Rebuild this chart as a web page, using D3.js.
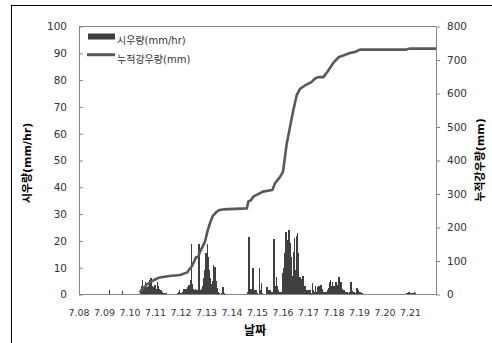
<!DOCTYPE html>
<html>
<head>
<meta charset="utf-8">
<script src="https://cdn.jsdelivr.net/npm/d3@7"></script>
<style>
  body { margin: 0; background: #fff; }
  svg { display: block; font-family: "DejaVu Sans", "Noto Sans CJK KR", sans-serif; }
</style>
</head>
<body>
<svg id="chart" width="492" height="343"></svg>
<script>
// date labels (one per day, 7.08 .. 7.21)
const days = ["7.08", "7.09", "7.10", "7.11", "7.12", "7.13", "7.14",
              "7.15", "7.16", "7.17", "7.18", "7.19", "7.20", "7.21"];

// hourly rainfall (mm/hr), 24 values per day
const rain0708 = [0,0,0,0,0,0,0,0,0,0,0,0,0,0,0,0,0,0,0,0,0,0,0,0];
const rain0709 = [0,0,0,0,1.5,0,0,0,0,0,0,0,0,0,0,0,1.2,0,0,0,0,0,0,0];
const rain0710 = [0,0,0,0,0,0,0,0,0,1,3,5.5,2,3,4.8,2.7,1.5,3,5.4,6,3,2.7,1.5,3.6];
const rain0711 = [2,4.8,3,2,1.5,1.7,1,0.7,0.5,0.5,0.3,0,0,0,0,0,0.3,0,0,0,0.5,1,1.5,0.5];
const rain0712 = [0.5,1,2,1,2,0.5,2.7,3.6,5.4,18.8,4,2,1.7,2,1.7,1.5,18.8,1.7,1.7,2,3,6,9,15.4];
const rain0713 = [19,14,9,6,4,5,11,10.4,5,2.5,1,0.5,0,0,0.5,2.9,0.5,0,0,0,0,0,0,0];
const rain0714 = [0,0,0,0,0,0,0,0,0,0,0,0,0,0,1,21.6,2,1.7,2,9.8,1.7,1.5,1.7,0.5];
const rain0715 = [0,10,1.5,4.2,0.5,0,0,0,2.7,1.7,1.5,1.7,1,0.5,1,20.6,3,6.7,3.2,1.5,1,1,1,8.2];
const rain0716 = [10,15.4,23.5,20.4,8,24.1,19.1,14.1,7,16,21,9,21.9,22.9,15.4,6.7,5.7,3,6.9,2,3.2,1,1.7,1.7];
const rain0717 = [1.7,1.5,0.5,4.2,1.7,1,3.2,1,2.7,3.2,1,3.6,2,1,1,1,1,1.5,2.3,4.8,5.4,3,4.8,3];
const rain0718 = [3,4.5,2,3.5,6.5,3,4.5,2,1.5,1.5,1,1,0.8,0.5,0.8,4.8,1.2,0.8,0.8,0.6,0.4,2.5,1.5,0.8];
const rain0719 = [0.8,0.6,0.4,0.3,0,0,0,0,0,0,0,0,0,0,0,0,0,0,0,0,0,0,0,0];
const rain0720 = [0,0,0,0,0,0,0,0,0,0,0,0,0,0,0,0,0,0,0,0,0.5,0.5,0.8,0.5];
const rain0721 = [0.5,0.5,0.5,1,0.5,0,0,0,0,0,0,0,0,0,0,0,0,0,0,0,0,0,0,0];

// cumulative rainfall (mm), read at hours counted from 7.08 00h
const cumHour = [57, 59, 64, 71, 76, 85, 95, 102, 104, 106, 109, 110,
                 112, 114, 118.6, 121, 123.3, 126, 129.6, 132, 135.8, 158, 159.3, 162, 164,
                 170, 173, 182, 184.5, 189.2, 192, 195.5, 198.6, 201.7, 204.9, 208, 212.7,
                 215.6, 218.8, 221.9, 225, 230, 233.7, 236.8, 240, 244.7, 249.4, 255, 259.7,
                 264.4, 308, 311.5, 336];
const cumRain = [6, 14, 30, 44, 51, 55, 58, 66, 76, 83, 103, 111,
                 111, 128, 158, 190, 213, 235, 247, 252, 254, 257, 277, 282, 292,
                 302, 307, 312, 332, 351, 366, 450, 500, 550, 595, 614, 624,
                 629, 634, 644, 649, 649, 664, 679, 694, 709, 714, 721, 724,
                 731, 731, 734, 734];

const hourly = [].concat(rain0708, rain0709, rain0710, rain0711, rain0712, rain0713, rain0714,
                         rain0715, rain0716, rain0717, rain0718, rain0719, rain0720, rain0721);

const svg = d3.select("#chart");
const plotLeft = 79, plotRight = 436, plotTop = 26.5, plotBottom = 294.5;
const axisColor = "#868686", textColor = "#333";

// outer frame
svg.append("rect")
    .attr("x", 11.5).attr("y", 5.5)
    .attr("width", 520).attr("height", 400)
    .attr("fill", "none").attr("stroke", "#000");

const x = d3.scaleLinear().domain([0, hourly.length]).range([plotLeft, plotRight]);
const yRain = d3.scaleLinear().domain([0, 100]).range([plotBottom, plotTop]);
const yCum = d3.scaleLinear().domain([0, 800]).range([plotBottom, plotTop]);

// bars (slightly widened so neighbouring hours merge like the original)
svg.append("g")
    .attr("shape-rendering", "crispEdges")
    .selectAll("rect")
    .data(hourly)
    .enter()
        .append("rect")
        .attr("x", (d, i) => x(i))
        .attr("y", d => yRain(d))
        .attr("width", (d, i) => x(i + 1) - x(i) + 0.5)
        .attr("height", d => plotBottom - yRain(d))
        .attr("fill", "#404040");

// cumulative line
const cum = cumHour.map((h, i) => [h, cumRain[i]]);
svg.append("path")
    .datum(cum)
    .attr("fill", "none")
    .attr("stroke", "#595959")
    .attr("stroke-width", 2.6)
    .attr("stroke-linejoin", "round")
    .attr("d", d3.line().x(d => x(d[0])).y(d => yCum(d[1])));

// axes
const gl = svg.append("g")
    .attr("transform", `translate(${plotLeft},0)`)
    .call(d3.axisLeft(yRain).ticks(10).tickSizeInner(-4).tickSizeOuter(0).tickPadding(12));
const gr = svg.append("g")
    .attr("transform", `translate(${plotRight},0)`)
    .call(d3.axisRight(yCum).ticks(8).tickSizeInner(4).tickSizeOuter(0).tickPadding(7));
[gl, gr].forEach(g => {
    g.selectAll("path, line").attr("stroke", axisColor);
    g.selectAll("text").attr("fill", textColor).style("font-size", "10.5px")
        .style("font-family", "DejaVu Sans");
});

// plot top border and bottom axis line
svg.append("line").attr("x1", plotLeft).attr("x2", plotRight).attr("y1", plotTop).attr("y2", plotTop)
    .attr("stroke", axisColor);
svg.append("line").attr("x1", plotLeft).attr("x2", plotRight).attr("y1", plotBottom).attr("y2", plotBottom)
    .attr("stroke", axisColor);

// date labels
svg.append("g")
    .selectAll("text")
    .data(days)
    .enter()
        .append("text")
        .attr("x", (d, i) => x(i * 24))
        .attr("y", 316)
        .attr("text-anchor", "middle")
        .attr("fill", textColor)
        .style("font-size", "9.4px")
        .text(d => d);

// axis titles
svg.append("text")
    .attr("transform", "translate(31,163) rotate(-90)")
    .attr("text-anchor", "middle")
    .attr("font-weight", "bold").style("font-size", "11px")
    .text("시우량(mm/hr)");
svg.append("text")
    .attr("transform", "translate(484,160) rotate(-90)")
    .attr("text-anchor", "middle")
    .attr("font-weight", "bold").style("font-size", "11px")
    .text("누적강우량(mm)");
svg.append("text")
    .attr("x", 255).attr("y", 335)
    .attr("text-anchor", "middle")
    .attr("font-weight", "bold").style("font-size", "12px")
    .text("날짜");

// legend
const legend = svg.append("g");
legend.append("rect").attr("x", 88).attr("y", 33.5).attr("width", 27).attr("height", 6)
    .attr("fill", "#404040");
legend.append("text").attr("x", 117).attr("y", 44).style("font-size", "10px").attr("fill", textColor)
    .text("시우량(mm/hr)");
legend.append("line").attr("x1", 87).attr("x2", 115).attr("y1", 54.7).attr("y2", 54.7)
    .attr("stroke", "#595959").attr("stroke-width", 3);
legend.append("text").attr("x", 117).attr("y", 63).style("font-size", "10px").attr("fill", textColor)
    .text("누적강우량(mm)");
</script>
</body>
</html>
